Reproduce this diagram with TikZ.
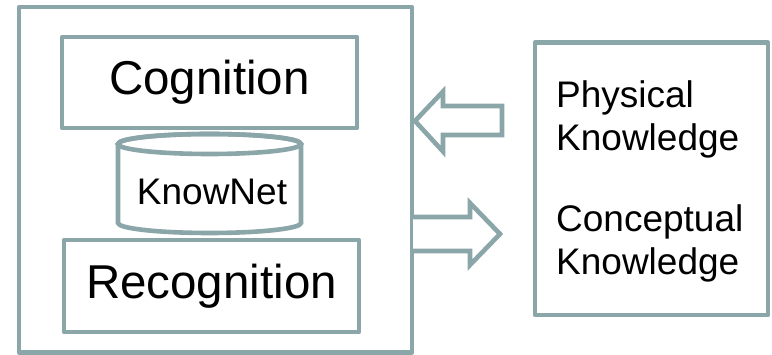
\documentclass[tikz,border=0pt]{standalone}
\usepackage{fontspec}
\setmainfont{Liberation Sans}
\definecolor{frame}{RGB}{139,166,169}
\tikzset{
  box/.style={draw=frame, line width=4.6pt, rectangle, inner sep=0pt, line join=round},
  big/.style={font=\fontsize{47.5}{57}\selectfont},
  mid/.style={font=\fontsize{37}{43.5}\selectfont},
  blockarrow/.style={draw=frame, line width=4.6pt, line join=miter, fill=white}
}
\begin{document}
\begin{tikzpicture}[x=1pt,y=1pt]
\useasboundingbox (0,0) rectangle (772,355);
% outer system box
\node[box, minimum width=393pt, minimum height=345.5pt] (sys) at (215.5,175.25) {};
\node[box, big, minimum width=295pt, minimum height=91pt] (cog) at (209.5,272.5) {Cognition};
\node[box, big, minimum width=295pt, minimum height=92pt] (rec) at (211.5,69) {Recognition};
% cylinder KnowNet
\draw[draw=frame, line width=4.6pt, fill=white]
  (118,211) -- (118,132) arc[start angle=180, end angle=360, x radius=91.5, y radius=10]
  -- (301,211) arc[start angle=0, end angle=180, x radius=91.5, y radius=10] -- cycle;
\draw[draw=frame, line width=4.6pt] (209.5,211) ellipse[x radius=91.5, y radius=10];
\node[mid, inner sep=0pt, anchor=base] (kn) at (212,150) {KnowNet};
% knowledge box
\node[box, minimum width=233pt, minimum height=272.3pt] (kb) at (651.5,176.15) {};
\node[mid, inner sep=0pt, anchor=base west, align=left] (phys) at (556,204.3) {Physical\\Knowledge};
\node[mid, inner sep=0pt, anchor=base west, align=left] (conc) at (556,80) {Conceptual\\Knowledge};
% block arrows
\draw[blockarrow] (415,234) -- (443,263.5) -- (443,249) -- (502,249) -- (502,220) -- (443,220) -- (443,203.5) -- cycle;
\draw[blockarrow] (413,138) -- (470,138) -- (470,152) -- (500,121) -- (470,90) -- (470,104) -- (413,104);
\end{tikzpicture}
\end{document}
